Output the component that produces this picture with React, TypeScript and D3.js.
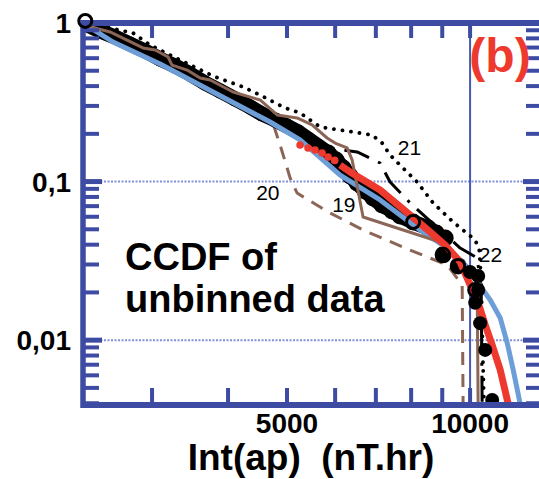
import React from 'react';
import * as d3 from 'd3';

type P = [number, number];

const X_DOMAIN: [number, number] = [2310, 13030];
const Y_DOMAIN: [number, number] = [0.0039, 1];

const xTickValues = [3000, 4000, 5000, 6000, 7000, 8000, 9000, 10000];
const xTickLabels: [number, string][] = [[5000, '5000'], [10000, '10000']];
const yMajorTicks: [number, string][] = [[1, '1'], [0.1, '0,1'], [0.01, '0,01']];
const yMinorTicks = [0.9, 0.8, 0.7, 0.6, 0.5, 0.4, 0.3, 0.2, 0.09, 0.08, 0.07, 0.06, 0.05, 0.04, 0.03, 0.02, 0.009, 0.008, 0.007, 0.006, 0.005, 0.004];
const gridY = [0.1, 0.01];
const gridX = [10000];

// empirical CCDF (black circles)
const dataPoints: P[] = [
  [2310, 1.0], [2464, 0.89], [2608, 0.816], [2760, 0.737], [2921, 0.666], [3093, 0.593],
  [3273, 0.536], [3464, 0.477], [3667, 0.4184], [3881, 0.3726], [4108, 0.3318], [4348, 0.2954],
  [4550, 0.2668], [4781, 0.2445], [5000, 0.2241], [5214, 0.2055], [5415, 0.1856], [5624, 0.1677],
  [5842, 0.1515], [6021, 0.137], [6183, 0.1218], [6349, 0.1085], [6520, 0.098], [6720, 0.0873],
  [6926, 0.0788], [7167, 0.0712], [7443, 0.0653], [7672, 0.0607], [8060, 0.0556], [8532, 0.051],
  [8795, 0.0474], [9100, 0.0441], [9030, 0.0345], [9560, 0.0294], [10000, 0.0269], [10312, 0.0254],
  [10312, 0.0207], [10195, 0.0172], [10388, 0.0128], [10589, 0.00868], [10873, 0.0042],
];
const openPoints: P[] = [[8060, 0.0556], [9030, 0.0345], [9560, 0.0294], [10195, 0.0207]];
const firstPoint: P = [2330, 1.03];

// fits
const blueFit: P[] = [
  [2310, 1.0], [2588, 0.759], [3093, 0.551], [3780, 0.367], [4691, 0.2375], [5254, 0.183],
  [6114, 0.11], [7112, 0.0766], [8277, 0.0495], [9273, 0.037], [10000, 0.0277], [10312, 0.0229],
  [10792, 0.0179], [11209, 0.0138], [11509, 0.0096], [11774, 0.00649], [12090, 0.00396], [12200, 0.0035],
];
const redFit: P[] = [
  [6114, 0.127], [6349, 0.115], [7112, 0.0885], [7969, 0.0616], [8597, 0.0481], [9100, 0.0398],
  [9632, 0.0311], [10000, 0.0223], [10312, 0.0172], [10589, 0.0125], [10873, 0.0093],
  [11209, 0.00649], [11553, 0.00396], [11650, 0.0035],
];
const redDots: P[] = [[5254, 0.17], [5415, 0.163], [5560, 0.158], [5710, 0.1515], [5842, 0.143], [5990, 0.136]];

// cycles
const cycle19: P[] = [
  [2310, 1.0], [2417, 0.93], [2559, 0.878], [2729, 0.781], [2899, 0.696], [3035, 0.676],
  [3188, 0.61], [3236, 0.543], [3426, 0.505], [3598, 0.45], [3738, 0.437], [4077, 0.367],
  [4516, 0.327], [4817, 0.263], [5194, 0.2518], [5498, 0.2275], [5820, 0.1883], [5998, 0.175],
  [6278, 0.163], [6398, 0.137], [6669, 0.0598], [9030, 0.041], [9522, 0.032], [10000, 0.024],
  [10274, 0.0198], [10312, 0.0035],
];
const cycle20: P[] = [
  [2310, 1.0], [2657, 0.759], [3093, 0.584], [3598, 0.437], [4186, 0.327], [4691, 0.263],
  [4872, 0.17], [5060, 0.1054], [5194, 0.0848], [5354, 0.0788], [5886, 0.0634], [6669, 0.0495],
  [7969, 0.037], [9168, 0.0298], [9705, 0.0223], [9741, 0.0035],
];
const cycle21: P[] = [
  [2310, 1.0], [2511, 0.944], [2791, 0.865], [2977, 0.727], [3336, 0.584], [3780, 0.463],
  [4234, 0.395], [4550, 0.346], [4965, 0.291], [5254, 0.271], [5667, 0.221], [6422, 0.2055],
  [6900, 0.1967], [7167, 0.175], [7387, 0.147], [7672, 0.127], [8183, 0.0994], [8695, 0.0733],
  [9379, 0.0556], [10195, 0.0428], [10352, 0.037], [10430, 0.024], [10470, 0.0116], [10549, 0.0035],
];
const cycle22: P[] = [
  [2310, 1.0], [2760, 0.737], [3598, 0.425], [4348, 0.3085], [4872, 0.2445], [5254, 0.183],
  [5603, 0.1653], [6183, 0.158], [6520, 0.1537], [7112, 0.131], [7387, 0.0994], [8030, 0.0712],
  [8929, 0.0495], [9632, 0.0381], [10274, 0.033], [10430, 0.0207], [10470, 0.0035],
];

const cycleLabels: [string, number, number][] = [
  ['19', 6200, 0.064],
  ['20', 4650, 0.077],
  ['21', 7950, 0.147],
  ['22', 10800, 0.0312],
];

const AXIS = '#3d4ba3';
const GRID = '#8090d8';
const BLUE = '#6e9ed8';
const RED = '#ee3a2e';
const BROWN = '#8b6657';
const FONT = '"Liberation Sans", Arial, Helvetica, sans-serif';

export default function App() {
  const W = 539, H = 479;
  const left = 83, right = 542, top = 23, bottom = 405;
  const x = d3.scaleLog().domain(X_DOMAIN).range([83, 540]);
  const y = d3.scaleLog().domain(Y_DOMAIN).range([405, 23]);
  const line = d3.line<P>().x((d) => x(d[0])).y((d) => y(d[1]));

  const lowerCircles = dataPoints.filter((d) => d[0] >= 9900);
  const mainCircles = dataPoints.filter((d) => d[0] < 9900);

  return (
    <svg width={W} height={H} style={{ display: 'block', position: 'absolute', left: 0, top: 0, background: '#fff' }}>
      <defs>
        <clipPath id="plot">
          <rect x={left} y={top} width={right - left} height={bottom - top} />
        </clipPath>
      </defs>
      {gridY.map((v) => (
        <line key={'gy' + v} x1={left} x2={right} y1={y(v)} y2={y(v)} stroke={GRID} strokeWidth={2} strokeDasharray="2 1.5" />
      ))}
      {gridX.map((v) => (
        <line key={'gx' + v} x1={x(v)} x2={x(v)} y1={top} y2={bottom} stroke="#4a58b5" strokeWidth={2} />
      ))}
      <g clipPath="url(#plot)" fill="none" strokeLinejoin="round">
        <path d={line(cycle20) || ''} stroke={BROWN} strokeWidth={3} strokeDasharray="13 9" />
        <path d={line(cycle21) || ''} stroke="#000" strokeWidth={3.8} strokeDasharray="0.1 8.5" strokeLinecap="round" />
        <path d={line(cycle22) || ''} stroke="#000" strokeWidth={3} strokeDasharray="26 10 3 10" />
        <path d={line(dataPoints.filter((d) => d[0] < 9000)) || ''} stroke="#000" strokeWidth={15} strokeLinecap="round" />
        {mainCircles.map((d, i) => (
          <circle key={'c' + i} cx={x(d[0])} cy={y(d[1])} r={d[0] > 5800 ? 8.5 : 7.5} fill="#000" />
        ))}
        <path d={line(blueFit) || ''} stroke={BLUE} strokeWidth={5} />
        <path d={line(cycle19) || ''} stroke={BROWN} strokeWidth={3} />
        <path d={line(redFit) || ''} stroke={RED} strokeWidth={7} />
        {redDots.map((d, i) => (
          <circle key={'rd' + i} cx={x(d[0])} cy={y(d[1])} r={3.8} fill={RED} />
        ))}
        {lowerCircles.map((d, i) => (
          <circle key={'lc' + i} cx={x(d[0])} cy={y(d[1])} r={7} fill="#000" />
        ))}
        {openPoints.map((d, i) => (
          <circle key={'o' + i} cx={x(d[0])} cy={y(d[1])} r={6.5} fill="none" stroke="#000" strokeWidth={3} />
        ))}
      </g>
      <g stroke={AXIS} fill="none">
        <line x1={left} x2={right} y1={top} y2={top} strokeWidth={6} />
        <line x1={left} x2={right} y1={bottom} y2={bottom} strokeWidth={6} />
        <line x1={left} x2={left} y1={top - 3} y2={bottom + 3} strokeWidth={5.5} />
        <line x1={right} x2={right} y1={top - 3} y2={bottom + 3} strokeWidth={5.5} />
        {xTickValues.map((v) => (
          <g key={'xt' + v}>
            <line x1={x(v)} x2={x(v)} y1={top} y2={top + 15} strokeWidth={4} />
            <line x1={x(v)} x2={x(v)} y1={bottom} y2={bottom - 17} strokeWidth={4} />
          </g>
        ))}
        {yMajorTicks.map(([v]) => (
          <g key={'ymt' + v}>
            <line x1={left} x2={left + 19} y1={y(v)} y2={y(v)} strokeWidth={5} />
            <line x1={right} x2={right - 19} y1={y(v)} y2={y(v)} strokeWidth={5} />
          </g>
        ))}
        {yMinorTicks.map((v) => (
          <g key={'ynt' + v}>
            <line x1={left} x2={left + 16} y1={y(v)} y2={y(v)} strokeWidth={4} />
            <line x1={right} x2={right - 16} y1={y(v)} y2={y(v)} strokeWidth={4} />
          </g>
        ))}
      </g>
      <circle cx={x(firstPoint[0])} cy={y(firstPoint[1])} r={6.5} fill="none" stroke="#000" strokeWidth={3} />
      <g fontFamily={FONT} fontWeight="bold" fontSize={28} fill="#000">
        {yMajorTicks.map(([v, t]) => (
          <text key={'yl' + v} x={71} y={y(v) + 10} textAnchor="end">{t}</text>
        ))}
        {xTickLabels.map(([v, t]) => (
          <text key={'xl' + v} x={x(v)} y={433} textAnchor="middle">{t}</text>
        ))}
      </g>
      <text x={311} y={470} textAnchor="middle" fontFamily={FONT} fontWeight="bold" fontSize={37} style={{ whiteSpace: 'pre' }}>
        {'Int(ap)  (nT.hr)'}
      </text>
      <text fontFamily={FONT} fontWeight="bold" fontSize={38} fill="#000">
        <tspan x={125} y={270}>CCDF of</tspan>
        <tspan x={125} y={312}>unbinned data</tspan>
      </text>
      <text x={500} y={72} textAnchor="middle" fontFamily={FONT} fontWeight="bold" fontSize={48} fill={RED}>(b)</text>
      <g fontFamily={FONT} fontSize={21} fill="#000">
        {cycleLabels.map(([t, vx, vy]) => (
          <text key={t} x={x(vx)} y={y(vy)} textAnchor="middle">{t}</text>
        ))}
      </g>
    </svg>
  );
}
